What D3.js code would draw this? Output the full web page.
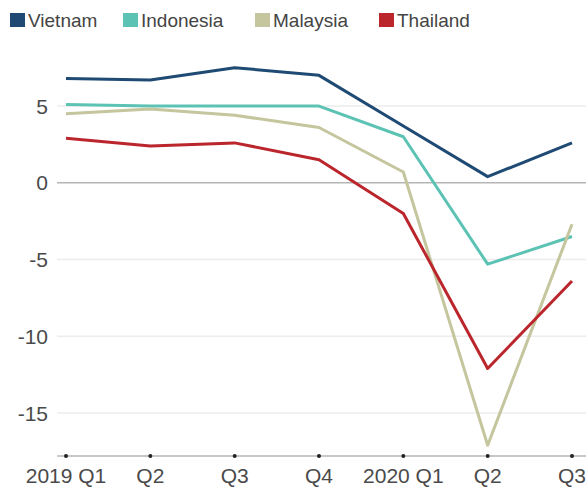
<!DOCTYPE html>
<html>
<head>
<meta charset="utf-8">
<script src="https://cdn.jsdelivr.net/npm/d3@7"></script>
<style>
  body { margin: 0; background: #fff; }
  svg { display: block; font-family: "Liberation Sans", Arial, sans-serif; }
</style>
</head>
<body>
<script>
// quarters on the x axis
var quarters = ["2019 Q1", "Q2", "Q3", "Q4", "2020 Q1", "Q2 ", "Q3 "];
var quarterLabels = ["2019 Q1", "Q2", "Q3", "Q4", "2020 Q1", "Q2", "Q3"];

// GDP growth, % year on year
var vietnam   = [6.8, 6.7, 7.5, 7.0, 3.7, 0.4, 2.6];
var indonesia = [5.1, 5.0, 5.0, 5.0, 3.0, -5.3, -3.5];
var malaysia  = [4.5, 4.8, 4.4, 3.6, 0.7, -17.1, -2.7];
var thailand  = [2.9, 2.4, 2.6, 1.5, -2.0, -12.1, -6.4];

var yTicks = [5, 0, -5, -10, -15];

var series = [
  {name: "Vietnam", values: vietnam, color: "#1e4a73"},
  {name: "Indonesia", values: indonesia, color: "#5cc3b4"},
  {name: "Malaysia", values: malaysia, color: "#c5c59e"},
  {name: "Thailand", values: thailand, color: "#bb262d"}
];

var width = 586, height = 487;

var svg = d3.select("body").append("svg")
    .attr("width", width)
    .attr("height", height);

var x = d3.scalePoint()
    .domain(quarters)
    .range([66, 572]);

var y = d3.scaleLinear()
    .domain([-17.8, 8])
    .range([456, 60]);

// horizontal gridlines
svg.selectAll(".grid")
    .data(yTicks)
  .enter().append("line")
    .attr("class", "grid")
    .attr("x1", 57).attr("x2", width)
    .attr("y1", function(d) { return y(d); })
    .attr("y2", function(d) { return y(d); })
    .attr("stroke", function(d) { return d === 0 ? "#b5b5b5" : "#ececec"; })
    .attr("stroke-width", 1.5);

// y labels
svg.selectAll(".ylab")
    .data(yTicks)
  .enter().append("text")
    .attr("class", "ylab")
    .attr("x", 48)
    .attr("y", function(d) { return y(d); })
    .attr("dy", "0.36em")
    .attr("text-anchor", "end")
    .attr("font-size", 21)
    .attr("fill", "#4a4a4a")
    .text(function(d) { return d < 0 ? "-" + Math.abs(d) : d; });

// bottom axis line with dot ticks
var axisY = y(-17.8);
svg.append("line")
    .attr("x1", 57).attr("x2", width)
    .attr("y1", axisY).attr("y2", axisY)
    .attr("stroke", "#c8c8c8")
    .attr("stroke-width", 2);

svg.selectAll(".tickdot")
    .data(quarters)
  .enter().append("circle")
    .attr("cx", function(d) { return x(d); })
    .attr("cy", axisY)
    .attr("r", 2)
    .attr("fill", "#222");

svg.selectAll(".xlab")
    .data(quarters)
  .enter().append("text")
    .attr("x", function(d) { return x(d); })
    .attr("y", 483)
    .attr("text-anchor", "middle")
    .attr("font-size", 21)
    .attr("fill", "#4a4a4a")
    .text(function(d, i) { return quarterLabels[i]; });

// lines
var line = d3.line()
    .x(function(d, i) { return x(quarters[i]); })
    .y(function(d) { return y(d); });

svg.selectAll(".series")
    .data(series)
  .enter().append("path")
    .attr("class", "series")
    .attr("d", function(d) { return line(d.values); })
    .attr("fill", "none")
    .attr("stroke", function(d) { return d.color; })
    .attr("stroke-width", 3)
    .attr("stroke-linejoin", "round");

// legend
var legendX = [10, 123, 255, 379];
var legend = svg.selectAll(".legend")
    .data(series)
  .enter().append("g")
    .attr("class", "legend")
    .attr("transform", function(d, i) { return "translate(" + legendX[i] + ",0)"; });

legend.append("rect")
    .attr("x", 0).attr("y", 13)
    .attr("width", 15).attr("height", 14)
    .attr("fill", function(d) { return d.color; });

legend.append("text")
    .attr("x", 18)
    .attr("y", 27)
    .attr("font-size", 19)
    .attr("fill", "#444")
    .text(function(d) { return d.name; });
</script>
</body>
</html>
